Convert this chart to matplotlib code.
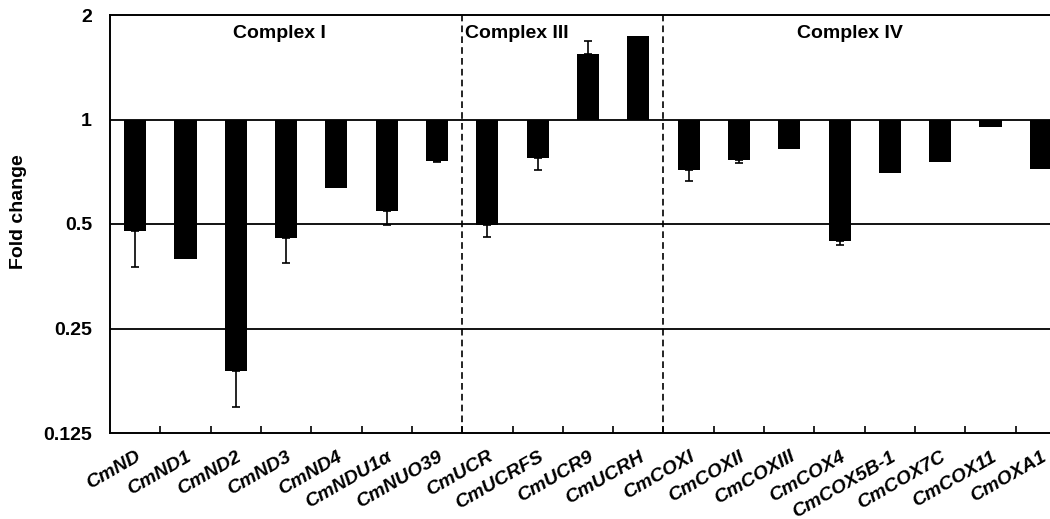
import numpy as np
import matplotlib
matplotlib.use("Agg")
import matplotlib.pyplot as plt

plt.rcParams['font.family'] = ['Liberation Sans', 'DejaVu Sans']

# genes, fold change and end point of the error bar (nan = no bar)
genes = ["CmND", "CmND1", "CmND2", "CmND3", "CmND4", "CmNDU1\u03b1", "CmNUO39",
         "CmUCR", "CmUCRFS", "CmUCR9", "CmUCRH",
         "CmCOXI", "CmCOXII", "CmCOXIII", "CmCOX4", "CmCOX5B-1", "CmCOX7C",
         "CmCOX11", "CmOXA1"]
fold = [0.477, 0.397, 0.188, 0.456, 0.634, 0.544, 0.758,
        0.497, 0.774, 1.546, 1.738,
        0.713, 0.762, 0.823, 0.446, 0.702, 0.755, 0.950, 0.722]
err_end = [0.377, np.nan, 0.149, 0.387, np.nan, 0.497, 0.752,
           0.458, 0.716, 1.686, np.nan,
           0.666, 0.747, np.nan, 0.436, np.nan, np.nan, np.nan, np.nan]

groups = ["Complex I", "Complex III", "Complex IV"]
group_text_x = [2.86, 6.56, 14.2]
group_ha = ["center", "left", "center"]
group_sep = [6.5, 10.5]

yticks = [0.125, 0.25, 0.5, 1, 2]
ytick_labels = ["0.125", "0.25", "0.5", "1", "2"]

fig = plt.figure(figsize=(10.5, 5.19), dpi=100)
# axes runs past the right edge like the cropped original
ax = fig.add_axes([110 / 1050, 1 - 433 / 519, 956 / 1050, 418 / 519])

x = np.arange(len(genes))
fold = np.array(fold)
err_end = np.array(err_end)

ax.set_yscale('log', base=2)
ax.set_ylim(0.125, 2)
ax.set_xlim(-0.5, len(genes) - 0.5)

for yv in [0.25, 0.5, 1]:
    ax.axhline(yv, color='black', lw=1.3, zorder=1)

ax.bar(x, fold - 1, bottom=1, width=0.44, color='black', zorder=3)

# one-sided error bars, pointing away from 1
has_err = ~np.isnan(err_end)
d = np.abs(fold - err_end)
lower = np.where(fold < 1, d, 0)
upper = np.where(fold > 1, d, 0)
ax.errorbar(x[has_err], fold[has_err], yerr=[lower[has_err], upper[has_err]],
            fmt='none', ecolor='black', elinewidth=1.2, capsize=3.2,
            capthick=1.2, zorder=2)

for s in group_sep:
    ax.axvline(s, color='black', lw=1.2, ls=(0, (4, 2.5)), zorder=2)

for name, gx, ha in zip(groups, group_text_x, group_ha):
    ax.text(gx, 1.77, name, ha=ha, va='center', fontsize=14, fontweight='bold')

ax.set_yticks(yticks)
ax.set_yticklabels(ytick_labels, fontsize=14, fontweight='bold')
ax.yaxis.set_minor_locator(matplotlib.ticker.NullLocator())
ax.tick_params(axis='y', length=0, pad=13)

ax.set_xticks(x)
ax.set_xticklabels(genes, rotation=30, ha='right', rotation_mode='anchor',
                   fontsize=14, fontweight='bold', fontstyle='italic')
ax.tick_params(axis='x', which='major', length=0, pad=11)
ax.set_xticks(np.arange(len(genes) - 1) + 0.5, minor=True)
ax.tick_params(axis='x', which='minor', direction='in', length=5, width=1.2)

for side in ['left', 'bottom', 'top']:
    ax.spines[side].set_linewidth(1.4)
ax.spines['right'].set_visible(False)

fig.text(19 / 1050, 1 - 212 / 519, "Fold change", rotation=90, ha='center',
         va='center', fontsize=14, fontweight='bold')

fig.savefig("out.png", dpi=100)
